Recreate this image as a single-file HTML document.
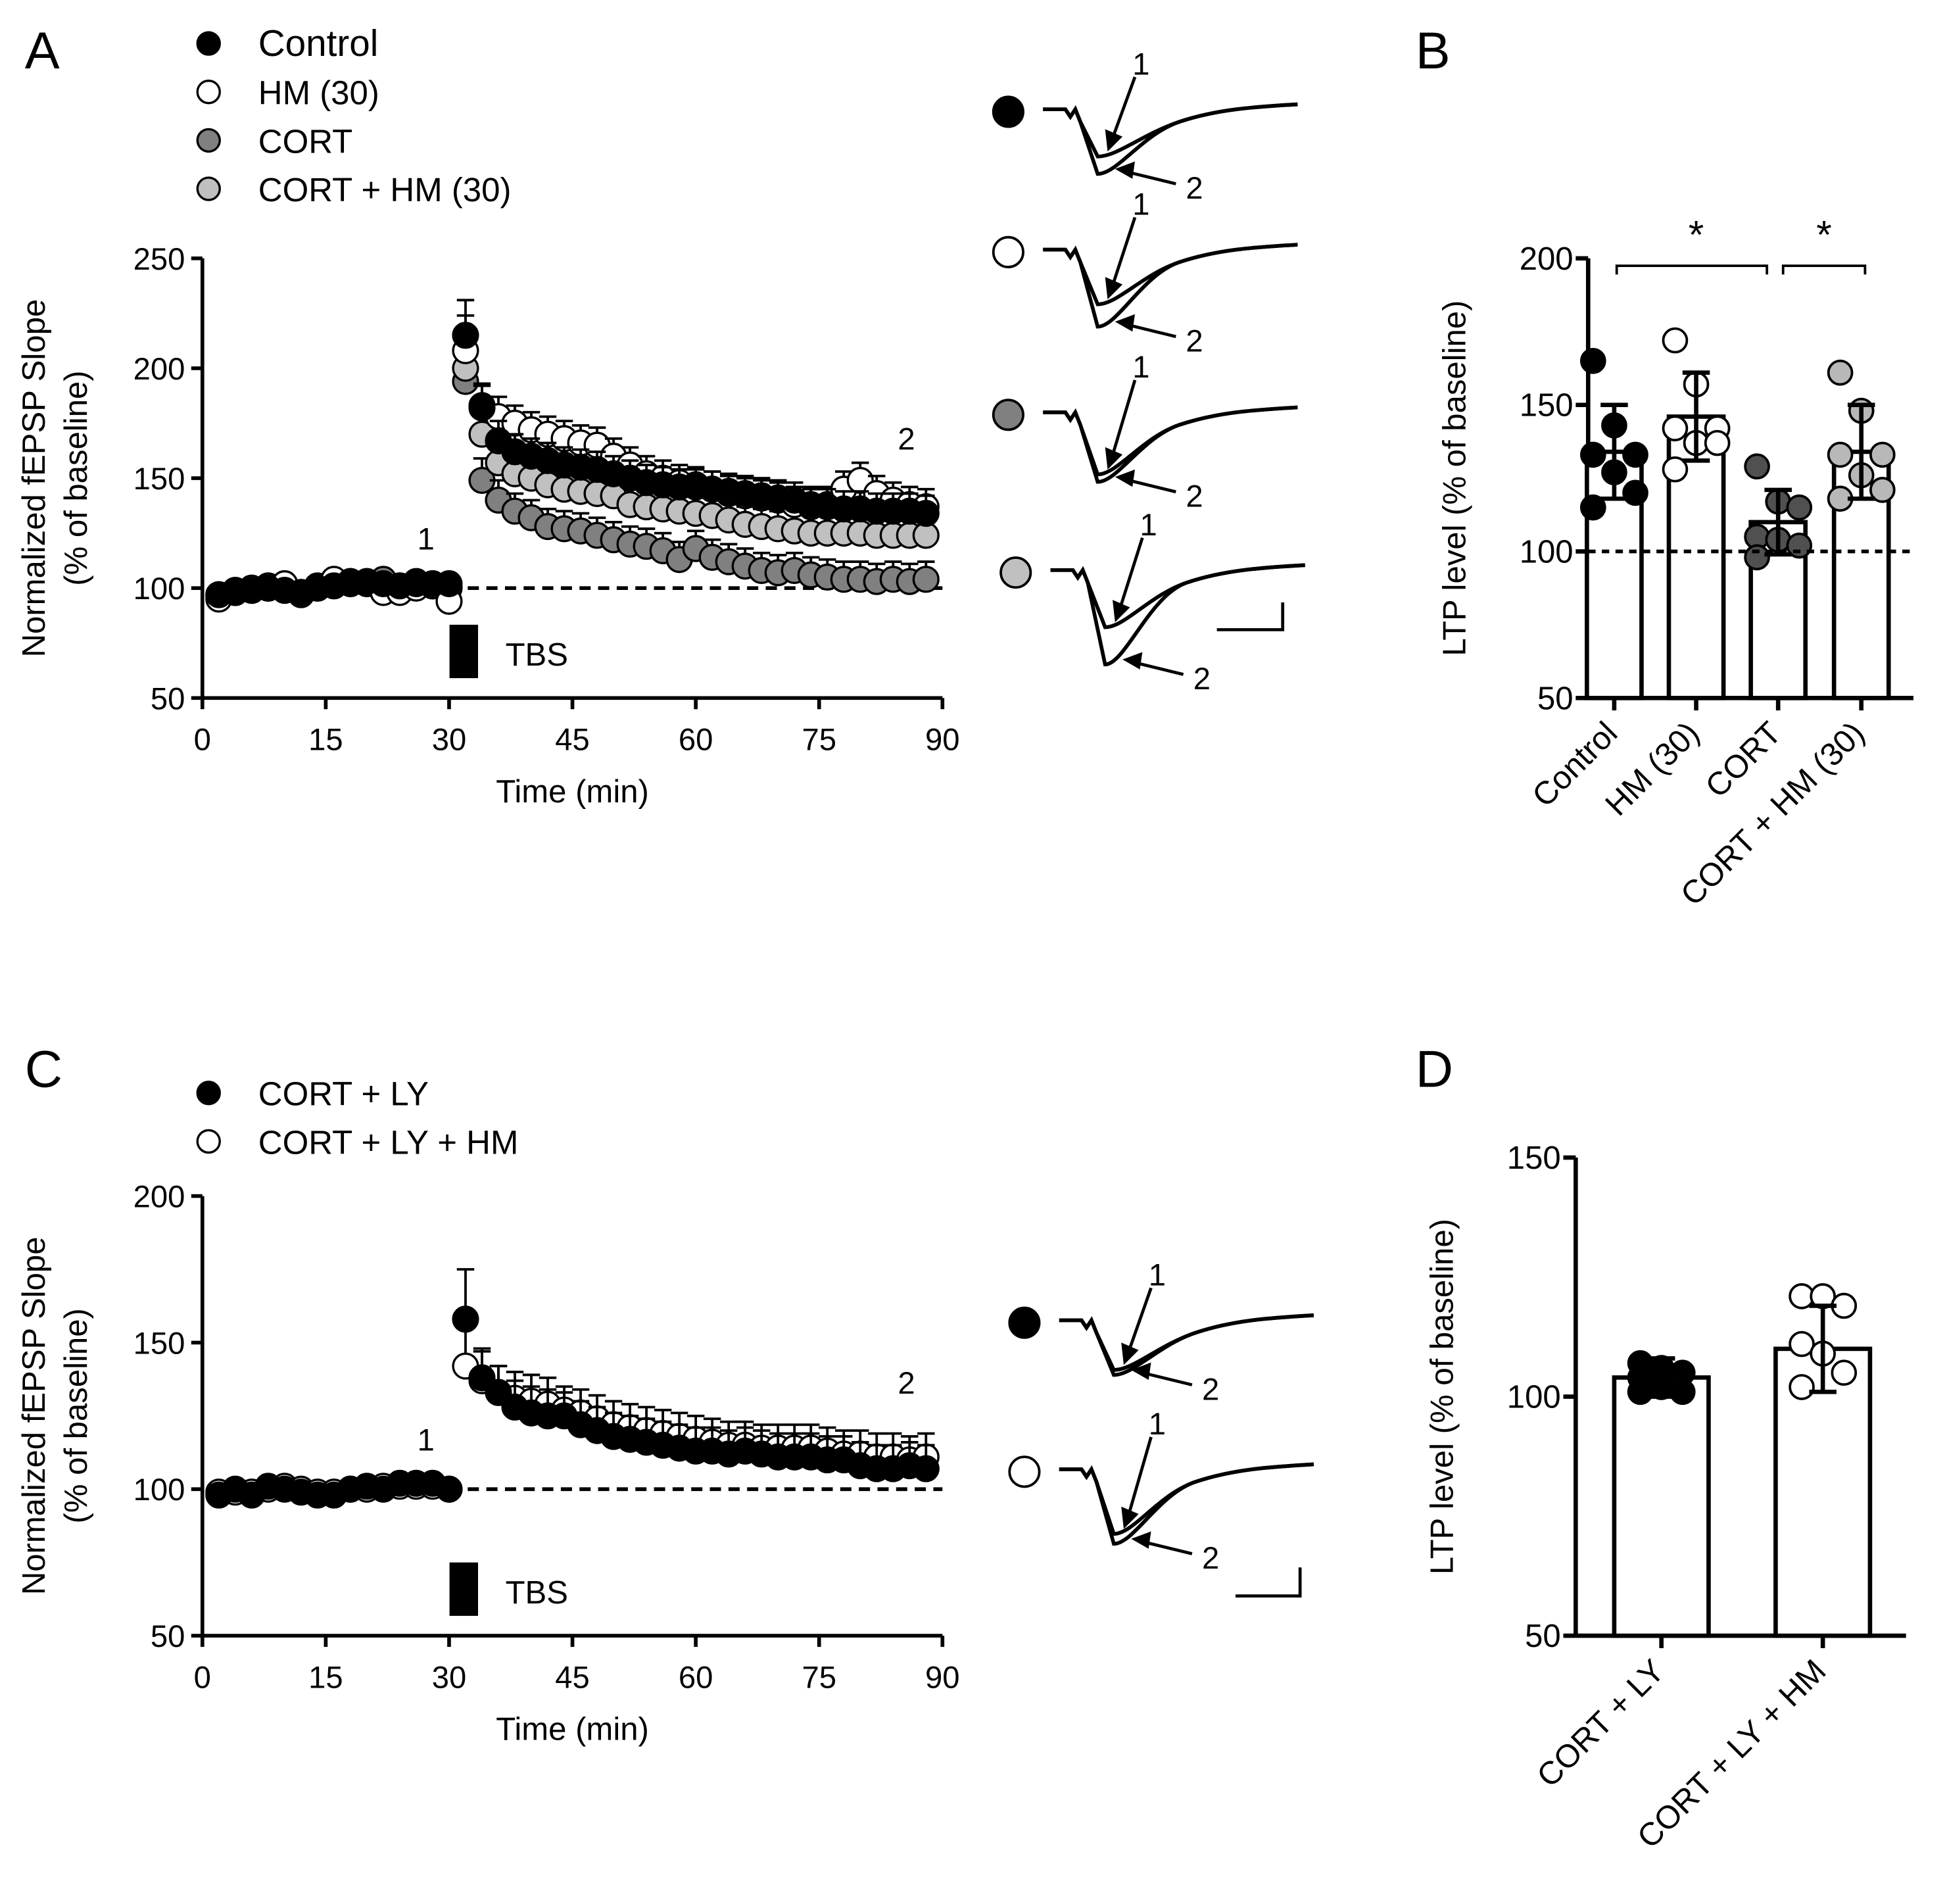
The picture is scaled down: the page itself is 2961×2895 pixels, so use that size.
<!DOCTYPE html>
<html><head><meta charset="utf-8"><style>
html,body{margin:0;padding:0;background:#fff}
svg{display:block}
text{font-family:"Liberation Sans",Arial,sans-serif;fill:#000}
</style></head><body>
<svg id="fig" width="2961" height="2895" viewBox="0 0 1568 1533" preserveAspectRatio="none" xmlns="http://www.w3.org/2000/svg">
<text x="20" y="55" font-size="42">A</text>
<text x="1140" y="55" font-size="42">B</text>
<text x="20" y="875" font-size="42">C</text>
<text x="1140" y="875" font-size="42">D</text>
<g id="gA"></g>
<g id="gB"></g>
<g id="gC"></g>
<g id="gD"></g>
</svg>
<script>
// ---- Panel A data ----
const timesA = [2,4,6,8,10,12,14,16,18,20,22,24,26,28,30,32,34,36,38,40,42,44,46,48,50,52,54,56,58,60,62,64,66,68,70,72,74,76,78,80,82,84,86,88];
const controlA = [97,98,99,100,99,98,100,101,102,103,102,101,102,102,102,215,182,167,162,160,158,156,155,154,152,150,148,147,146,146,145,144,143,142,141,140,138,137,136,136,135,135,135,134];
const hmA = [95,99,100,101,102,97,100,104,103,103,98,98,100,101,94,208,183,178,175,172,170,168,166,165,160,156,152,150,148,147,145,143,142,141,140,138,137,138,145,149,143,140,138,137];
const cortA = [97,98,99,100,100,98,101,103,103,102,104,100,103,101,100,194,149,140,135,132,128,127,126,124,122,120,119,117,113,118,114,112,110,108,107,108,106,105,104,104,103,104,103,104];
const corthmA = [96,98,99,100,99,98,100,102,102,102,101,101,102,101,100,200,170,157,152,150,147,145,144,143,142,138,137,136,135,134,133,131,129,128,127,126,125,125,125,125,124,124,124,124];
const errA = [2,2,2,2,2,2,2,2,2,2,2,2,2,2,2,16,10,9,8,8,8,8,8,8,8,8,8,8,8,8,8,8,8,8,8,8,8,8,8,8,8,8,8,8];
const seriesNamesA = ["Control","HM (30)","CORT","CORT + HM (30)"];
const xTicks = [0,15,30,45,60,75,90];
const yTicksA = [50,100,150,200,250];
// ---- Panel B data ----
const catsB = ["Control","HM (30)","CORT","CORT + HM (30)"];
const meansB = [134,146,110,134];
const sdB = [16,15,11,16];
const ptsB = [[165,143,133,133,127,120,115],[172,157,142,142,137,137,128],[129,117,115,105,104,102,98],[161,148,133,133,126,121,118]];
const yTicksB = [50,100,150,200];
// ---- Panel C data ----
const timesC = timesA;
const lyC = [98,100,98,101,100,99,98,98,100,101,100,102,102,102,100,158,138,133,128,126,125,125,122,120,118,117,116,115,114,113,113,112,113,112,111,111,111,110,110,108,107,107,108,107];
const lyhmC = [99,99,99,100,101,100,99,99,100,100,101,101,101,101,100,142,137,133,131,130,129,127,126,124,122,121,120,119,118,117,116,115,115,114,114,114,114,113,112,112,111,111,110,111];
const errC = [2,2,2,2,2,2,2,2,2,2,2,2,2,2,2,17,10,9,9,9,9,8,8,8,8,8,8,8,8,8,8,8,8,8,8,8,8,8,8,8,8,8,8,8];
const seriesNamesC = ["CORT + LY","CORT + LY + HM"];
const yTicksC = [50,100,150,200];
// ---- Panel D data ----
const catsD = ["CORT + LY","CORT + LY + HM"];
const meansD = [104,110];
const sdD = [4,9];
const ptsD = [[107,106,105,104,102,101,101],[121,121,119,111,109,105,102]];
const yTicksD = [50,100,150];

const NS="http://www.w3.org/2000/svg";
function mk(parent,tag,attrs,txt){const e=document.createElementNS(NS,tag);for(const k in attrs)e.setAttribute(k,attrs[k]);if(txt!==undefined)e.textContent=txt;parent.appendChild(e);return e;}
const fills=["#000","#fff","#808080","#c0c0c0"];

function lineChart(g,times,series,errs,fillsUse,yTicks,yMin,yMax,top,bottom,key){
  const x0=163,x1=759;
  const sx=t=>x0+(x1-x0)*t/90;
  const sy=v=>bottom-(bottom-top)*(v-yMin)/(yMax-yMin);
  let ax=mk(g,'line',{x1:x0,y1:top,x2:x0,y2:bottom,stroke:'#000','stroke-width':3});
  
  
  let xa=mk(g,'line',{x1:x0,y1:bottom,x2:x1,y2:bottom,stroke:'#000','stroke-width':3});
  
  
  yTicks.forEach(v=>{
    mk(g,'line',{x1:x0-9,y1:sy(v),x2:x0,y2:sy(v),stroke:'#000','stroke-width':3});
    const t=mk(g,'text',{x:x0-14,y:sy(v)+9,'font-size':25,'text-anchor':'end'},v);
    
    
  });
  xTicks.forEach(v=>{
    mk(g,'line',{x1:sx(v),y1:bottom,x2:sx(v),y2:bottom+9,stroke:'#000','stroke-width':3});
    const t=mk(g,'text',{x:sx(v),y:bottom+42,'font-size':25,'text-anchor':'middle'},v);
    
    
  });
  const xt=mk(g,'text',{x:461,y:bottom+84,'font-size':26,'text-anchor':'middle'},'Time (min)');
  
  
  const cy=(top+bottom)/2;
  const yt=mk(g,'text',{x:0,y:0,'font-size':26,'text-anchor':'middle',transform:`translate(36,${cy}) rotate(-90)`},'Normalized fEPSP Slope');
  
  
  const yt2=mk(g,'text',{x:0,y:0,'font-size':26,'text-anchor':'middle',transform:`translate(70,${cy}) rotate(-90)`},'(% of baseline)');
  
  
  const dl=mk(g,'line',{x1:sx(30),y1:sy(100),x2:x1,y2:sy(100),stroke:'#000','stroke-width':3,'stroke-dasharray':'9,6'});
  
  
  const tb=mk(g,'rect',{x:362,y:bottom-59,width:23,height:43,fill:'#000'});
  
  
  const tt=mk(g,'text',{x:407,y:bottom-26,'font-size':26},'TBS');
  
  
  const l1=mk(g,'text',{x:343,y:sy(100)-31,'font-size':25,'text-anchor':'middle'},'1');
  
  
  series.forEach((s,si)=>{
    const sg=mk(g,'g',{});
    
    
    s.forEach((v,i)=>{
      const x=sx(times[i]),y=sy(v),ye=sy(v+errs[i]);
      if(errs[i]>3){
        mk(sg,'line',{x1:x,y1:y,x2:x,y2:ye,stroke:'#000','stroke-width':2});
        mk(sg,'line',{x1:x-7,y1:ye,x2:x+7,y2:ye,stroke:'#000','stroke-width':2});
      }
      const c=mk(sg,'circle',{cx:x,cy:y,r:10,fill:fillsUse[si],stroke:'#000','stroke-width':1.8});
      
      
    });
  });
  return {sy};
}

function legend(g,names,fl,y0,dy,key){
  names.forEach((n,i)=>{
    const c=mk(g,'circle',{cx:168,cy:y0+i*dy,r:9,fill:fl[i],stroke:'#000','stroke-width':1.8});
    
    
    const t=mk(g,'text',{x:208,y:y0+i*dy+10,'font-size':(i===0&&key==='a')?30:27},n);
    
    
  });
}

function trace(g,cx,cy,fill,depth1,depth2,key){
  const c=mk(g,'circle',{cx:cx,cy:cy,r:12,fill:fill,stroke:'#000','stroke-width':2});
  
  
  const sx=cx+28, base=cy-2;
  [depth1,depth2].forEach(d=>{
    const p=`M${sx},${base} L${sx+18},${base} L${sx+22},${base+6} L${sx+26},${base} L${sx+30},${base+10} L${sx+44},${base+d} C${sx+60},${base+d} ${sx+80},${base+20} ${sx+110},${base+10} S${sx+170},${base-2} ${sx+205},${base-4}`;
    const pa=mk(g,'path',{d:p,fill:'none',stroke:'#000','stroke-width':3});
    
    
  });
  const ax=sx+52;
  mk(g,'line',{x1:ax+22,y1:cy-28,x2:ax+3,y2:cy+depth1-14,stroke:'#000','stroke-width':2.5});
  mk(g,'polygon',{points:`${ax},${cy+depth1-6} ${ax-2},${cy+depth1-24} ${ax+12},${cy+depth1-18}`,fill:'#000'});
  const t1=mk(g,'text',{x:ax+20,y:cy-30,'font-size':25},'1');
  
  
  mk(g,'line',{x1:ax+55,y1:cy+depth2+6,x2:ax+14,y2:cy+depth2-4,stroke:'#000','stroke-width':2.5});
  mk(g,'polygon',{points:`${ax+6},${cy+depth2-6} ${ax+22},${cy+depth2-12} ${ax+20},${cy+depth2+2}`,fill:'#000'});
  const t2=mk(g,'text',{x:ax+63,y:cy+depth2+18,'font-size':25},'2');
  
  
}

function barChart(g,cats,means,sds,pts,fl,yTicks,yMin,yMax,top,bottom,x0,xEnd,centers,bw,key){
  const sy=v=>bottom-(bottom-top)*(v-yMin)/(yMax-yMin);
  mk(g,'line',{x1:x0,y1:top,x2:x0,y2:bottom,stroke:'#000','stroke-width':3.5});
  mk(g,'line',{x1:x0,y1:bottom,x2:xEnd,y2:bottom,stroke:'#000','stroke-width':3.5});
  yTicks.forEach(v=>{
    mk(g,'line',{x1:x0-10,y1:sy(v),x2:x0,y2:sy(v),stroke:'#000','stroke-width':3.5});
    const t=mk(g,'text',{x:x0-12,y:sy(v)+9,'font-size':26,'text-anchor':'end'},v);
    
    
  });
  const yt=mk(g,'text',{x:0,y:0,'font-size':26,'text-anchor':'middle',transform:`translate(${x0-99},${(top+bottom)/2}) rotate(-90)`},'LTP level (% of baseline)');
  
  
  cats.forEach((c,i)=>{
    const cx=centers[i];
    const b=mk(g,'rect',{x:cx-bw/2,y:sy(means[i]),width:bw,height:bottom-sy(means[i]),fill:'#fff',stroke:'#000','stroke-width':3.5});
    
    
    mk(g,'line',{x1:cx,y1:bottom,x2:cx,y2:bottom+10,stroke:'#000','stroke-width':3.5});
    pts[i].forEach((v,j)=>{
      const off=((j%3)-1)*17;
      const p=mk(g,'circle',{cx:cx+off,cy:sy(v),r:9.5,fill:fl[i],stroke:'#000','stroke-width':2});
      
      
    });
    const yh=sy(means[i]+sds[i]),yl=sy(means[i]-sds[i]);
    mk(g,'line',{x1:cx,y1:yh,x2:cx,y2:yl,stroke:'#000','stroke-width':3.5});
    mk(g,'line',{x1:cx-11,y1:yh,x2:cx+11,y2:yh,stroke:'#000','stroke-width':3.5});
    mk(g,'line',{x1:cx-11,y1:yl,x2:cx+11,y2:yl,stroke:'#000','stroke-width':3.5});
    const t=mk(g,'text',{x:0,y:0,'font-size':26,'text-anchor':'end',transform:`translate(${cx+4},${bottom+30}) rotate(-45)`},c);
    
    
  });
  return sy;
}

// Panel A
const gA=document.getElementById('gA');
legend(gA,seriesNamesA,fills,35,39,'a');
lineChart(gA,timesA,[cortA,corthmA,hmA,controlA],errA,[fills[2],fills[3],fills[1],fills[0]],yTicksA,50,250,208,562,'a');
const a2=mk(gA,'text',{x:730,y:362,'font-size':25,'text-anchor':'middle'},'2');


trace(gA,812,90,fills[0],38,52,'a');
trace(gA,812,203,fills[1],44,62,'a');
trace(gA,812,334,fills[2],50,56,'a');
trace(gA,818,461,fills[3],46,76,'a');
mk(gA,'path',{d:'M980,507 L1033,507 L1033,485',fill:'none',stroke:'#000','stroke-width':2.5});

// Panel B
const gB=document.getElementById('gB');
const syB=barChart(gB,catsB,meansB,sdB,ptsB,["#000","#fff","#505050","#b8b8b8"],yTicksB,50,200,208,562,1279,1541,[1300,1366,1432,1499],44,'b');
mk(gB,'line',{x1:1279,y1:syB(100),x2:1541,y2:syB(100),stroke:'#000','stroke-width':3,'stroke-dasharray':'6,5'});
mk(gB,'path',{d:'M1302,221 L1302,214 L1423,214 L1423,221',fill:'none',stroke:'#000','stroke-width':2});
mk(gB,'path',{d:'M1436,221 L1436,214 L1502,214 L1502,221',fill:'none',stroke:'#000','stroke-width':2});
const s1=mk(gB,'text',{x:1366,y:200,'font-size':32,'text-anchor':'middle'},'*');


const s2=mk(gB,'text',{x:1469,y:200,'font-size':32,'text-anchor':'middle'},'*');



// Panel C
const gC=document.getElementById('gC');
legend(gC,seriesNamesC,fills,880,39,'c');
lineChart(gC,timesC,[lyhmC,lyC],errC,[fills[1],fills[0]],yTicksC,50,200,963,1317,'c');
const c2=mk(gC,'text',{x:730,y:1122,'font-size':25,'text-anchor':'middle'},'2');


trace(gC,825,1065,fills[0],40,44,'c');
trace(gC,825,1185,fills[1],52,60,'c');
mk(gC,'path',{d:'M995,1285 L1047,1285 L1047,1262',fill:'none',stroke:'#000','stroke-width':2.5});

// Panel D
const gD=document.getElementById('gD');
barChart(gD,catsD,meansD,sdD,ptsD,["#000","#fff"],yTicksD,50,150,932,1317,1269,1535,[1338,1468],76,'d');
</script>
</body></html>
